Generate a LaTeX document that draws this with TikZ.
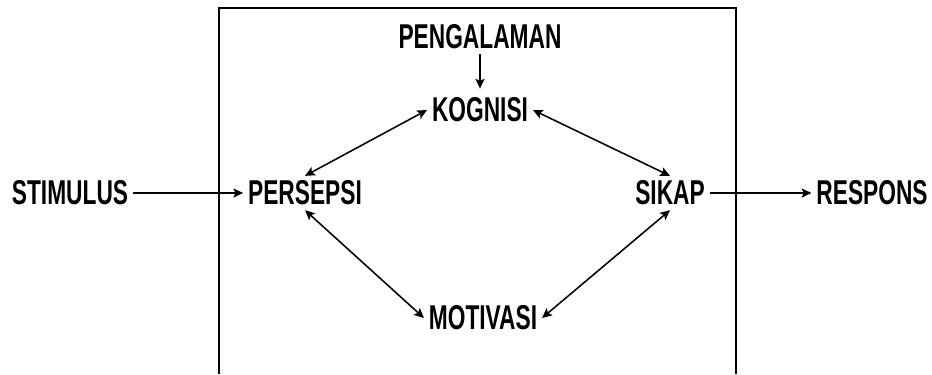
\documentclass[tikz,border=0pt]{standalone}
\usepackage{fontspec}
\setmainfont{Liberation Sans}[FakeStretch=0.66]
\usepackage{tikz}
\usetikzlibrary{arrows.meta,positioning}

\begin{document}
\begin{tikzpicture}
\tikzstyle{txt}=[inner sep = 0.3333em, font=\fontsize{24.5}{28}\selectfont\bfseries]
\tikzstyle{arr}=[line width = 1.1pt, -{Stealth[length=7pt, width=6.5pt, inset=1.5pt]}]
\tikzstyle{darr}=[line width = 1.1pt, {Stealth[length=7pt, width=6.5pt, inset=1.5pt]}-{Stealth[length=7pt, width=6.5pt, inset=1.5pt]}]

\useasboundingbox (0,0) rectangle (23.3,-9.35);

% frame, open at the bottom
\draw[line width = 1.6pt] (5.475,-9.35) |- (18.4,-0.2) -- (18.4,-9.35);

\node[txt] (peng) at (12,-0.925) {PENGALAMAN};
\node[txt, below of = peng, node distance=1.825cm] (kog) {KOGNISI};
\node[txt] (pers) at (7.625,-4.825) {PERSEPSI};
\node[txt] (sikap) at (16.75,-4.825) {SIKAP};
\node[txt] (moti) at (12.075,-7.95) {MOTIVASI};
\node[txt] (stim) at (1.75,-4.825) {STIMULUS};
\node[txt] (resp) at (21.8,-4.825) {RESPONS};

\draw[arr] (stim) -- (pers);
\draw[arr] (sikap) -- (resp);
\draw[arr, shorten >=3pt] (peng) -- (kog);
\draw[darr] (pers.north) -- (kog.west);
\draw[darr] (kog.east) -- (sikap.north);
\draw[darr] (pers.south) -- (moti.west);
\draw[darr] (sikap.south) -- (moti.east);
%\draw[darr] (pers) -- (sikap);
\end{tikzpicture}
\end{document}
